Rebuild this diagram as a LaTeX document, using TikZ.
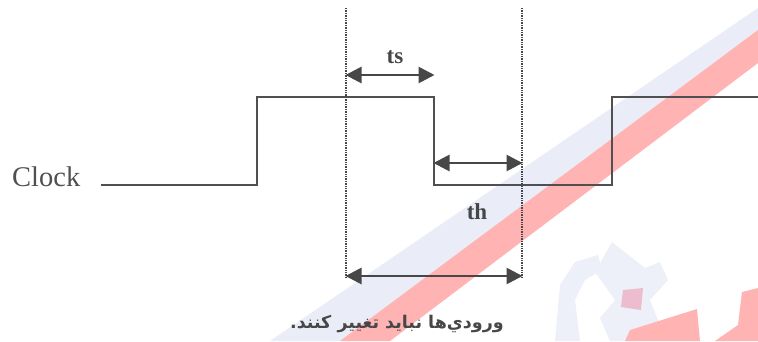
\documentclass[tikz,border=0pt]{standalone}
\usepackage{fontspec}
\setmainfont{Liberation Serif}
\newfontfamily\arabicfont[Script=Arabic]{DejaVu Sans}
\TeXXeTstate=1
\usetikzlibrary{arrows.meta}
\definecolor{ink}{HTML}{474747}
\definecolor{wave}{HTML}{505050}
\definecolor{wmblue}{HTML}{EAEDF8}
\definecolor{wmlogo}{HTML}{EEF0F9}
\definecolor{wmred}{HTML}{FFB3B3}
\tikzset{
  signal/.style={draw=wave, line width=1.6pt},
  guide/.style={draw=ink, line width=2pt, dash pattern=on 1.4pt off 1pt},
  measure/.style={draw=ink, line width=2.8pt, {Triangle[length=16pt,width=16pt]}-{Triangle[length=16pt,width=16pt]}, shorten <=-0.5pt, shorten >=-0.5pt},
  timelabel/.style={text=ink, font=\fontsize{23}{25}\selectfont\bfseries, inner sep=0pt},
  signame/.style={text=wave, font=\fontsize{28.5}{30}\selectfont, inner sep=0pt, anchor=base west},
  note/.style={text=ink, font=\arabicfont\bfseries\fontsize{17.5}{20}\selectfont, inner sep=0pt}
}
\begin{document}
\begin{tikzpicture}[x=1pt,y=-1pt]
\useasboundingbox (0,0) rectangle (758,341);
% watermark
\fill[wmblue] (758,8) -- (758,30) -- (340,341) -- (270,341) -- cycle;
\fill[wmred] (758,30) -- (758,63) -- (390,341) -- (340,341) -- cycle;
\fill[wmlogo] (555,341) -- (560,285) -- (575,262) -- (598,255) -- (602,270) -- (585,280) -- (575,300) -- (580,341) -- cycle;
\fill[wmlogo] (595,272) -- (612,242) -- (645,268) -- (660,262) -- (668,280) -- (650,300) -- (662,330) -- (640,341) -- (610,341) -- (600,318) -- (615,300) -- cycle;
\fill[wmred!90!blue!70] (623,290) -- (643,288) -- (641,310) -- (621,307) -- cycle;
\fill[wmred] (630,330) -- (697,309) -- (700,341) -- (625,341) -- cycle;
\fill[wmred] (742,292) -- (758,288) -- (758,341) -- (715,341) -- (738,325) -- cycle;
% waveform
\coordinate (c0) at (101,185);
\coordinate (c1) at (257,185);
\coordinate (c2) at (257,97);
\coordinate (c3) at (434,97);
\coordinate (c4) at (434,185);
\coordinate (c5) at (612,185);
\coordinate (c6) at (612,97);
\coordinate (c7) at (758,97);
\draw[signal] (c0) -- (c1) -- (c2) -- (c3) -- (c4) -- (c5) -- (c6) -- (c7);
\node[signame] (clk) at (12,186) {Clock};
% guides
\coordinate (g1t) at (346,8);
\coordinate (g1b) at (346,278);
\coordinate (g2t) at (522,8);
\coordinate (g2b) at (522,278);
\draw[guide] (g1t) -- (g1b);
\draw[guide] (g2t) -- (g2b);
% measurement arrows
\coordinate (tsa) at (346,75);
\coordinate (tsb) at (434,75);
\coordinate (tha) at (434,163);
\coordinate (thb) at (522,163);
\coordinate (wa) at (346,276);
\coordinate (wb) at (522,276);
\draw[measure] (tsa) -- (tsb);
\draw[measure] (tha) -- (thb);
\draw[measure] (wa) -- (wb);
\node[timelabel] (ts) at (395,57) {ts};
\node[timelabel] (th) at (477,212) {th};
\node[note] (msg) at (397,324) {\beginR ورودي‌ها نبايد تغيير كنند.\endR};
\end{tikzpicture}
\end{document}
